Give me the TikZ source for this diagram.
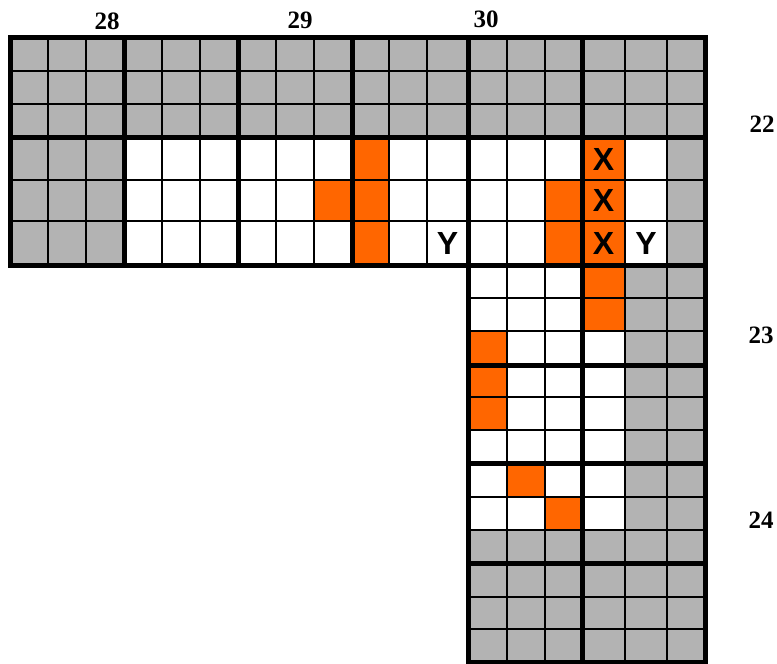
\documentclass[tikz,border=0pt]{standalone}
\usepackage{fontspec}
\setmainfont{Liberation Serif}
\newfontfamily\lsans{Liberation Sans}
\definecolor{cgray}{RGB}{179,179,179}
\definecolor{corange}{RGB}{255,102,0}
\begin{document}
\begin{tikzpicture}[x=1pt,y=-1pt,
  grayfill/.style={fill=cgray},
  orfill/.style={fill=corange},
  thinline/.style={line width=2pt,black},
  thickline/.style={line width=5pt,black,line cap=rect},
  numlabel/.style={font=\fontsize{25}{30}\selectfont\bfseries},
  letlabel/.style={font=\lsans\fontsize{32}{36}\selectfont\bfseries}]
\useasboundingbox[fill=white] (0,0) rectangle (777,664);
% gray regions
\fill[grayfill] (10,37) rectangle (705,137);
\fill[grayfill] (10,137) rectangle (124,265);
\fill[grayfill] (667,137) rectangle (705,265);
\fill[grayfill] (625,265) rectangle (705,530);
\fill[grayfill] (468,530) rectangle (705,662);
% orange cells
\fill[orfill] (352,137) rectangle (389,265);
\fill[orfill] (314,180) rectangle (352,221);
\fill[orfill] (582,137) rectangle (625,331);
\fill[orfill] (545,180) rectangle (582,265);
\fill[orfill] (468,331) rectangle (507,430);
\fill[orfill] (507,463) rectangle (545,497);
\fill[orfill] (545,497) rectangle (582,530);
% thin grid
\foreach \x in {48,86,162,200,276,314,389,427}
  \draw[thinline] (\x,37) -- (\x,265);
\foreach \x in {507,545,625,667}
  \draw[thinline] (\x,37) -- (\x,662);
\foreach \y in {71,104,180,221}
  \draw[thinline] (10,\y) -- (705,\y);
\foreach \y in {298,331,397,430,497,530,597,629}
  \draw[thinline] (468,\y) -- (705,\y);
% thick block lines
\foreach \x in {124,238,352}
  \draw[thickline] (\x,37) -- (\x,265);
\draw[thickline] (582,37) -- (582,662);
\draw[thickline] (10,137) -- (705,137);
\draw[thickline] (468,265) -- (705,265);
\foreach \y in {365,463,563}
  \draw[thickline] (468,\y) -- (705,\y);
\draw[thickline] (468,37) -- (468,662);
\draw[line width=5pt,black,line join=miter] (10,37) -- (705,37) -- (705,662) -- (468,662) -- (468,265) -- (10,265) -- cycle;
% labels
\node[numlabel] (l28) at (107,21) {28};
\node[numlabel] (l29) at (300,20.5) {29};
\node[numlabel] (l30) at (486,19.5) {30};
\node[numlabel] (l22) at (762,124) {22};
\node[numlabel] (l23) at (761,335) {23};
\node[numlabel] (l24) at (761,520) {24};
\node[letlabel] (x1) at (603.5,159) {X};
\node[letlabel] (x2) at (603.5,200.5) {X};
\node[letlabel] (x3) at (603.5,243) {X};
\node[letlabel] (y1) at (447.5,243) {Y};
\node[letlabel] (y2) at (646,243) {Y};
\end{tikzpicture}
\end{document}
